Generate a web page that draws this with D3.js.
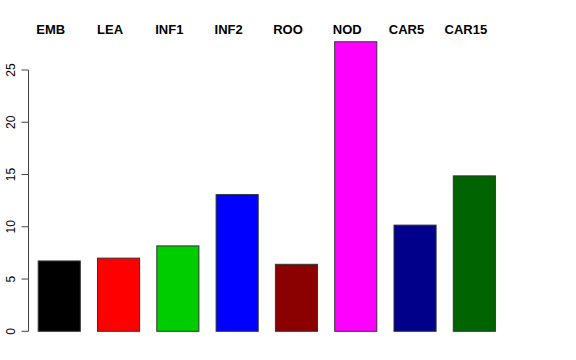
<!DOCTYPE html>
<html>
<head>
<meta charset="utf-8">
<script src="https://cdn.jsdelivr.net/npm/d3@7"></script>
<style>
  body { margin: 0; background: #fff; }
  svg { display: block; }
</style>
</head>
<body>
<svg id="chart" width="576" height="360"></svg>
<script>
var tissues = ["EMB", "LEA", "INF1", "INF2", "ROO", "NOD", "CAR5", "CAR15"]
var values = [6.73, 7.0, 8.17, 13.08, 6.41, 27.7, 10.16, 14.87]
var fills = ["#000000", "#FF0000", "#00CD00", "#0000FF", "#8B0000", "#FF00FF", "#00008B", "#006400"]
var yTicks = [0, 5, 10, 15, 20, 25]

var svg = d3.select("#chart")

var x = d3.scaleBand()
  .domain(tissues)
  .range([29.6, 504])
  .paddingInner(0.29)
  .paddingOuter(0.145)

var y = d3.scaleLinear()
  .domain([0, 25])
  .range([331.3, 70])

var colorScale = d3.scaleOrdinal()
  .domain(tissues)
  .range(fills)

// bars
svg.selectAll("rect.bar")
  .data(tissues)
  .enter().append("rect")
  .attr("class", "bar")
  .attr("x", function (d) { return x(d) })
  .attr("y", function (d, i) { return y(values[i]) })
  .attr("width", x.bandwidth())
  .attr("height", function (d, i) { return y(0) - y(values[i]) })
  .style("fill", function (d) { return colorScale(d) })
  .style("stroke", "#333")
  .style("stroke-width", 1)

// tissue labels on top
svg.selectAll("text.lab")
  .data(tissues)
  .enter().append("text")
  .attr("class", "lab")
  .attr("x", function (d) { return x(d) + x.bandwidth() / 2 - 8.5 })
  .attr("y", 34)
  .attr("text-anchor", "middle")
  .style("font-family", "Liberation Sans, Arial, sans-serif")
  .style("font-weight", "bold")
  .style("font-size", "13px")
  .text(function (d) { return d })

// y axis, R style
var axisG = svg.append("g").attr("transform", "translate(28.5,0)")
axisG.append("line")
  .attr("y1", y(0)).attr("y2", y(25))
  .style("stroke", "#444")
axisG.selectAll("line.tick")
  .data(yTicks)
  .enter().append("line")
  .attr("class", "tick")
  .attr("x1", -7).attr("x2", 0)
  .attr("y1", function (d) { return y(d) })
  .attr("y2", function (d) { return y(d) })
  .style("stroke", "#444")
axisG.selectAll("text")
  .data(yTicks)
  .enter().append("text")
  .attr("transform", function (d) { return "translate(-14," + y(d) + ") rotate(-90)" })
  .attr("text-anchor", "middle")
  .style("font-family", "Liberation Sans, Arial, sans-serif")
  .style("font-size", "12px")
  .text(function (d) { return d })
</script>
</body>
</html>
